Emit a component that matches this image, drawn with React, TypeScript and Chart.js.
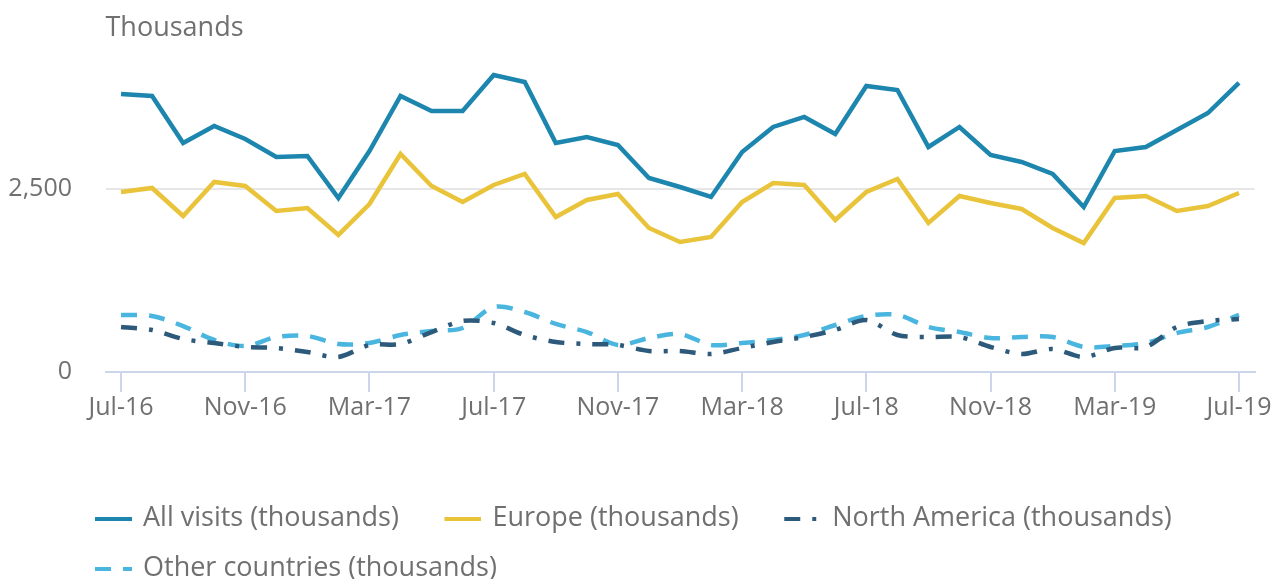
import React, { useEffect, useRef } from 'react';
import { Chart, registerables } from 'chart.js';

Chart.register(...registerables);

const months = [
  'Jul-16', 'Aug-16', 'Sep-16', 'Oct-16', 'Nov-16', 'Dec-16',
  'Jan-17', 'Feb-17', 'Mar-17', 'Apr-17', 'May-17', 'Jun-17',
  'Jul-17', 'Aug-17', 'Sep-17', 'Oct-17', 'Nov-17', 'Dec-17',
  'Jan-18', 'Feb-18', 'Mar-18', 'Apr-18', 'May-18', 'Jun-18',
  'Jul-18', 'Aug-18', 'Sep-18', 'Oct-18', 'Nov-18', 'Dec-18',
  'Jan-19', 'Feb-19', 'Mar-19', 'Apr-19', 'May-19', 'Jun-19',
  'Jul-19',
];

const shownTicks = ['Jul-16', 'Nov-16', 'Mar-17', 'Jul-17', 'Nov-17', 'Mar-18', 'Jul-18', 'Nov-18', 'Mar-19', 'Jul-19'];

const yTicks = [0, 2500];

const allVisits = [
  3798, 3770, 3128, 3361, 3183, 2937, 2951, 2377, 3019, 3770, 3566, 3566,
  4057, 3962, 3128, 3210, 3101, 2650, 2527, 2391, 3005, 3347, 3484, 3251,
  3907, 3852, 3074, 3347, 2964, 2869, 2705, 2254, 3019, 3074, 3306, 3538,
  3948,
];

const europe = [
  2459, 2514, 2131, 2596, 2541, 2199, 2240, 1872, 2295, 2978, 2541, 2322,
  2555, 2705, 2117, 2350, 2432, 1967, 1776, 1844, 2322, 2582, 2555, 2076,
  2459, 2637, 2035, 2404, 2309, 2227, 1967, 1762, 2377, 2404, 2199, 2268,
  2445,
];

const northAmerica = [
  615, 574, 451, 396, 342, 328, 273, 205, 369, 383, 546, 697,
  669, 505, 410, 383, 369, 287, 287, 246, 328, 410, 478, 574,
  710, 505, 478, 478, 342, 246, 314, 205, 328, 342, 615, 697,
  724,
];

const otherCountries = [
  779, 765, 628, 437, 355, 478, 492, 383, 396, 505, 560, 601,
  888, 820, 656, 546, 369, 464, 519, 369, 396, 437, 505, 642,
  765, 779, 615, 546, 464, 478, 478, 342, 355, 396, 533, 615,
  779,
];

const seriesNames = [
  'All visits (thousands)',
  'Europe (thousands)',
  'North America (thousands)',
  'Other countries (thousands)',
];

const seriesColors = ['#1d86ae', '#e9c43b', '#2d5a7b', '#4ab6df'];
const seriesDash = [[], [], [16, 12, 4, 12], [16, 12]];
const seriesTension = [0, 0, 0.3, 0.3];

const TEXT = '#707070';

export default function App() {
  const ref = useRef<HTMLCanvasElement>(null);

  useEffect(() => {
    if (!ref.current) return;
    Chart.defaults.font.family = "'Open Sans', sans-serif";

    // legend symbol: 62px image centred on a 57px box, line occupies its right 37px
    const marker = (color: string, dash: number[]) => {
      const c = document.createElement('canvas');
      c.width = 62;
      c.height = 4;
      const g = c.getContext('2d');
      if (g) {
        g.strokeStyle = color;
        g.lineWidth = 4;
        g.setLineDash(dash);
        g.beginPath();
        g.moveTo(25, 2);
        g.lineTo(62, 2);
        g.stroke();
      }
      return c;
    };
    const markers = seriesColors.map((c, i) => marker(c, seriesDash[i]));

    const values = [allVisits, europe, northAmerica, otherCountries];

    const unclipYLabels = {
      id: 'unclipYLabels',
      afterLayout(chart: any) {
        chart.scales.y.left = 0;
      },
    };

    const chart = new Chart(ref.current, {
      type: 'line',
      data: {
        labels: months,
        datasets: values.map((d, i) => ({
          label: seriesNames[i],
          data: d,
          borderColor: seriesColors[i],
          backgroundColor: seriesColors[i],
          borderWidth: 4.5,
          borderDash: seriesDash[i],
          pointRadius: 0,
          pointHoverRadius: 0,
          tension: seriesTension[i],
          fill: false,
        })),
      },
      options: {
        animation: false,
        responsive: false,
        layout: { padding: { left: 49.5, right: 19.5, top: 0, bottom: 0 } },
        scales: {
          x: {
            offset: true,
            grid: {
              display: true,
              drawOnChartArea: false,
              drawTicks: true,
              tickLength: 20,
              color: '#ccd6eb',
              lineWidth: 2,
              offset: false,
            },
            border: { display: true, color: '#ccd6eb', width: 2 },
            ticks: {
              autoSkip: false,
              maxRotation: 0,
              padding: 1,
              color: TEXT,
              font: { size: 25 },
              callback: (_v: any, i: number) => (shownTicks.includes(months[i]) ? months[i] : null),
            },
            afterFit: (s: any) => {
              s.height = 110;
            },
          },
          y: {
            min: 0,
            max: 4471,
            afterBuildTicks: (s: any) => {
              s.ticks = yTicks.map((v) => ({ value: v }));
            },
            grid: {
              color: (ctx: any) => (ctx.tick && ctx.tick.value === 0 ? 'rgba(0,0,0,0)' : '#e6e6e6'),
              lineWidth: 2,
              drawTicks: true,
              tickLength: 30,
              tickColor: 'rgba(0,0,0,0)',
            },
            border: { display: false },
            ticks: {
              padding: 3.5,
              color: TEXT,
              font: { size: 25 },
              callback: (v: any) => Number(v).toLocaleString('en-US'),
            },
            afterFit: (s: any) => {
              s.width = 56;
            },
          },
        },
        plugins: {
          title: {
            display: true,
            text: 'Thousands',
            align: 'start',
            fullSize: false,
            color: TEXT,
            font: { size: 27, weight: 'normal' },
            padding: { top: 12.3, bottom: 0 },
          },
          legend: {
            position: 'bottom',
            align: 'start',
            labels: {
              usePointStyle: true,
              pointStyleWidth: 57,
              boxHeight: 4,
              padding: 23,
              color: TEXT,
              font: { size: 27 },
              generateLabels: (c: any) =>
                Chart.defaults.plugins.legend.labels
                  .generateLabels(c)
                  .map((l: any, i: number) => ({ ...l, pointStyle: markers[i] })),
            },
          },
          tooltip: { enabled: false },
        },
      } as any,
      plugins: [unclipYLabels],
    });

    return () => chart.destroy();
  }, []);

  return (
    <div
      style={{
        position: 'fixed',
        left: 0,
        top: 0,
        width: 1274,
        height: 579,
        overflow: 'hidden',
        background: '#ffffff',
      }}
    >
      <canvas ref={ref} width={1274} height={592} style={{ display: 'block' }} />
    </div>
  );
}
